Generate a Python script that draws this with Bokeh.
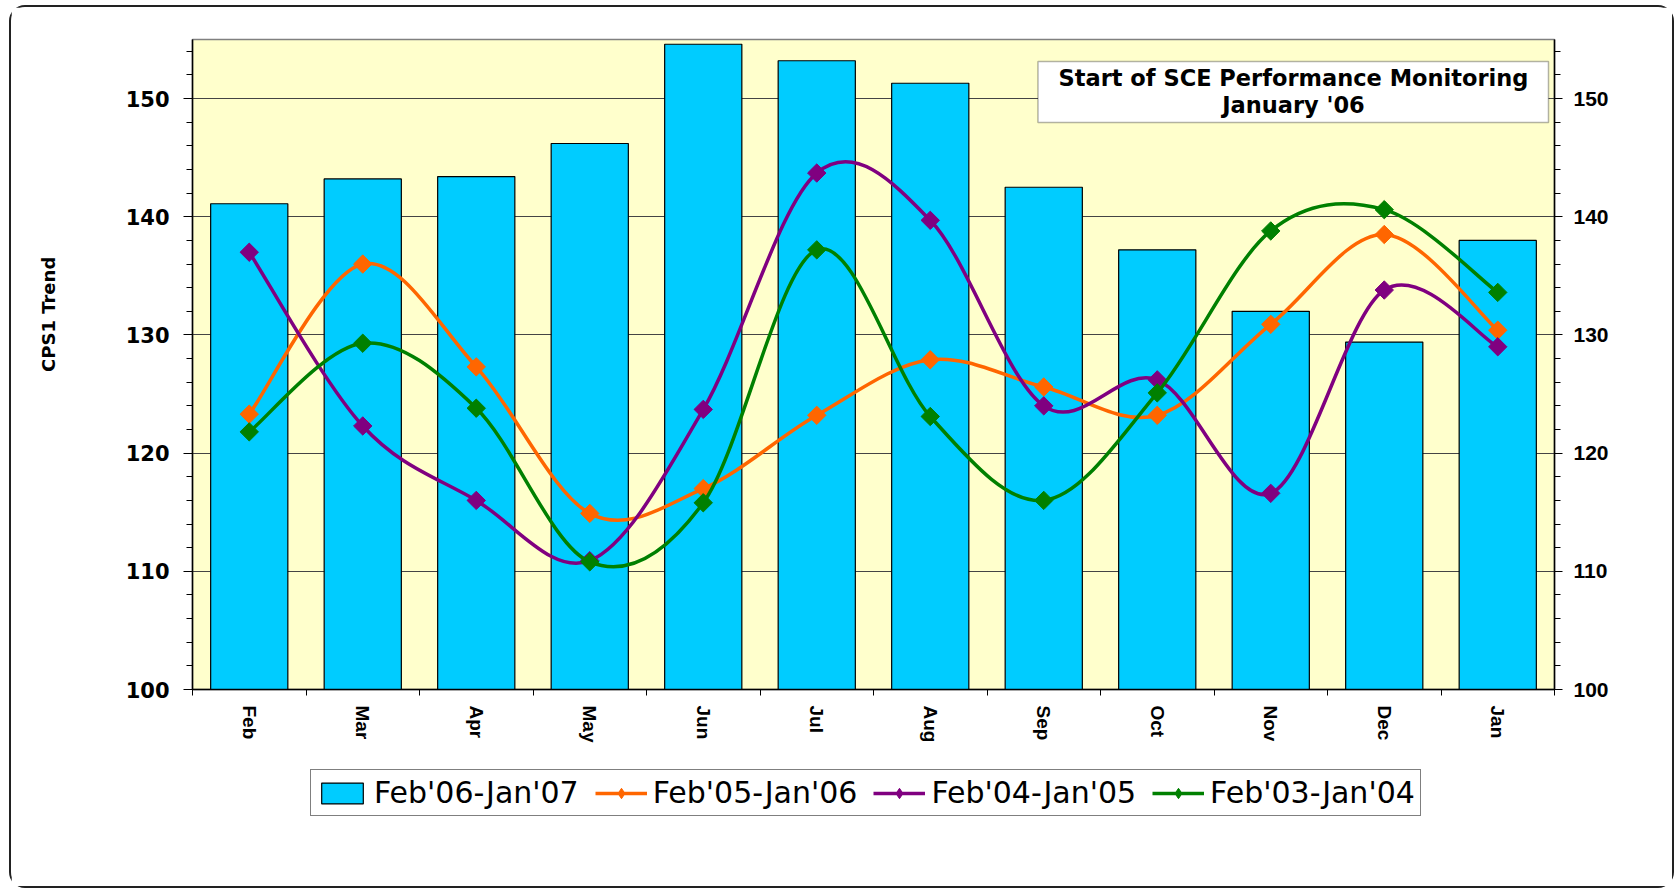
import math
from bokeh.plotting import figure
from bokeh.layouts import column
from bokeh.models import (Range1d, LinearAxis, FixedTicker, SingleIntervalTicker,
                          Legend, LegendItem, Label, BoxAnnotation)
from bokeh.embed import file_html
from bokeh.resources import INLINE

# ---------------- data ----------------
months = ["Feb", "Mar", "Apr", "May", "Jun", "Jul", "Aug", "Sep", "Oct", "Nov", "Dec", "Jan"]
bars_06_07 = [141.1, 143.2, 143.4, 146.2, 154.6, 153.2, 151.3, 142.5, 137.2, 132.0, 129.4, 138.0]
line_05_06 = [123.3, 136.0, 127.3, 114.9, 117.0, 123.2, 127.9, 125.6, 123.2, 130.9, 138.5, 130.4]
line_04_05 = [137.0, 122.3, 116.0, 110.9, 123.7, 143.7, 139.7, 124.0, 126.2, 116.6, 133.8, 129.0]
line_03_04 = [121.8, 129.3, 123.8, 110.8, 115.8, 137.2, 123.1, 116.0, 125.1, 138.8, 140.6, 133.6]
series_names = ["Feb'06-Jan'07", "Feb'05-Jan'06", "Feb'04-Jan'05", "Feb'03-Jan'04"]
y_min, y_max = 100, 155
title_lines = ["Start of SCE Performance Monitoring", "January '06"]
y_title = "CPS1 Trend"

# ---------------- styles ----------------
BAR_COLOR = "#00CCFF"
LINE_COLORS = ["#FF6600", "#800080", "#008000"]
xs = list(range(len(months)))
W = 1661

p = figure(width=W, height=742, output_backend="svg", toolbar_location=None,
           x_range=Range1d(-0.5, len(months) - 0.5), y_range=Range1d(y_min, y_max),
           min_border_left=181, min_border_top=32, min_border_right=118, min_border_bottom=60,
           background_fill_color="#FFFFCC", border_fill_color="white",
           outline_line_color="#808080", outline_line_width=1.5)

# grid
p.xgrid.visible = False
p.ygrid.grid_line_color = "#444444"
p.ygrid.grid_line_width = 1
p.ygrid.ticker = SingleIntervalTicker(interval=10, num_minor_ticks=5)

# x axis
xa = p.xaxis[0]
xa.ticker = FixedTicker(ticks=xs, minor_ticks=[i - 0.5 for i in range(len(months) + 1)])
xa.major_label_overrides = {i: m for i, m in enumerate(months)}
xa.major_tick_line_color = None
xa.minor_tick_line_color = "black"
xa.minor_tick_out = 6
xa.minor_tick_in = 0
xa.axis_line_color = "black"
xa.axis_line_width = 1.5
xa.major_label_orientation = -math.pi / 2
xa.major_label_standoff = 10
xa.major_label_text_font = "Liberation Sans"
xa.major_label_text_font_style = "bold"
xa.major_label_text_font_size = "19px"
xa.major_label_text_color = "black"

# y axes
ya = p.yaxis[0]
ya.ticker = SingleIntervalTicker(interval=10, num_minor_ticks=5)
ya.major_tick_out = 9
ya.major_tick_in = 0
ya.minor_tick_out = 6
ya.minor_tick_in = 0
ya.major_label_standoff = 14
ya.axis_line_color = "black"
ya.axis_line_width = 1.5
ya.major_label_text_font = "DejaVu Sans"
ya.major_label_text_font_style = "bold"
ya.major_label_text_font_size = "21px"
ya.major_label_text_color = "black"
# axis title: leading no-break spaces shift the centred text upward like the reference
ya.axis_label = "\u00a0" * 16 + y_title
ya.axis_label_standoff = 64
ya.axis_label_text_font = "DejaVu Sans"
ya.axis_label_text_font_style = "bold"
ya.axis_label_text_font_size = "18px"
ya.axis_label_text_color = "black"

yr = LinearAxis(ticker=SingleIntervalTicker(interval=10, num_minor_ticks=5))
yr.major_tick_out = 8
yr.major_tick_in = 0
yr.minor_tick_out = 6
yr.minor_tick_in = 0
yr.major_label_standoff = 11
yr.axis_line_color = "black"
yr.axis_line_width = 1.5
yr.major_label_text_font = "Liberation Sans"
yr.major_label_text_font_style = "bold"
yr.major_label_text_font_size = "21px"
yr.major_label_text_color = "black"
p.add_layout(yr, "right")

# bars
p.vbar(x=xs, top=bars_06_07, bottom=y_min, width=0.68,
       fill_color=BAR_COLOR, line_color="black", line_width=1.2)


# smoothed lines (Excel-like Catmull-Rom Bezier built from the data points)
def bezier_parts(xv, yv):
    n = len(xv)
    out = dict(x0=[], y0=[], x1=[], y1=[], cx0=[], cy0=[], cx1=[], cy1=[])
    for i in range(n - 1):
        i0, i3 = max(i - 1, 0), min(i + 2, n - 1)
        out["x0"].append(xv[i]); out["y0"].append(yv[i])
        out["x1"].append(xv[i + 1]); out["y1"].append(yv[i + 1])
        out["cx0"].append(xv[i] + (xv[i + 1] - xv[i0]) / 6)
        out["cy0"].append(yv[i] + (yv[i + 1] - yv[i0]) / 6)
        out["cx1"].append(xv[i + 1] - (xv[i3] - xv[i]) / 6)
        out["cy1"].append(yv[i + 1] - (yv[i3] - yv[i]) / 6)
    return out


for vals, col in zip([line_05_06, line_04_05, line_03_04], LINE_COLORS):
    p.bezier(**bezier_parts(xs, vals), line_color=col, line_width=3.5)
    p.scatter(xs, vals, marker="square", angle=math.pi / 4, size=13,
              fill_color=col, line_color=col)

# title box
p.add_layout(BoxAnnotation(left=6.949, right=11.447, top=153.14, bottom=147.97,
                           fill_color="white", fill_alpha=1,
                           line_color="black", line_width=1.5, level="annotation"))
for txt, yy in zip(title_lines, [151.75, 149.45]):
    p.add_layout(Label(x=9.2, y=yy, text=txt, text_align="center", text_baseline="alphabetic",
                       text_font="DejaVu Sans", text_font_style="bold", text_font_size="22.5px",
                       text_color="black"))

# ---------------- legend strip (own small figure below the chart) ----------------
lg = figure(width=W, height=137, output_backend="svg", toolbar_location=None,
            x_axis_location=None, y_axis_location=None, min_border=0,
            x_range=Range1d(0, 1), y_range=Range1d(0, 1),
            outline_line_color=None, background_fill_color="white", border_fill_color="white")
lg.grid.visible = False
# legend proxies: placed outside the strip's visible range so only their legend glyphs show
proxy_bar = lg.vbar(x=[-10], top=[-10], width=0.5, fill_color=BAR_COLOR,
                    line_color="black", line_width=1.2)
items = [LegendItem(label=series_names[0], renderers=[proxy_bar])]
for name, col in zip(series_names[1:], LINE_COLORS):
    pl = lg.line(x=[-10, -9], y=[-10, -9], line_color=col, line_width=3.5)
    pm = lg.scatter(x=[-10], y=[-10], marker="diamond", size=18, fill_color=col, line_color=col)
    items.append(LegendItem(label=name, renderers=[pl, pm]))

legend = Legend(items=items, orientation="horizontal", location=(118, 70),
                border_line_color="black", border_line_width=1.5,
                background_fill_color="white", background_fill_alpha=1,
                padding=5, spacing=16, margin=0, glyph_width=52, glyph_height=26,
                label_standoff=6, label_text_font="DejaVu Sans",
                label_text_font_size="30px", label_text_color="black")
lg.add_layout(legend, "center")

page = column(p, lg, spacing=0)
page.styles = {"border": "2px solid #222222", "border-radius": "16px",
               "position": "absolute", "left": "9px", "top": "5px"}

open("out.html", "w").write(file_html(page, INLINE))
